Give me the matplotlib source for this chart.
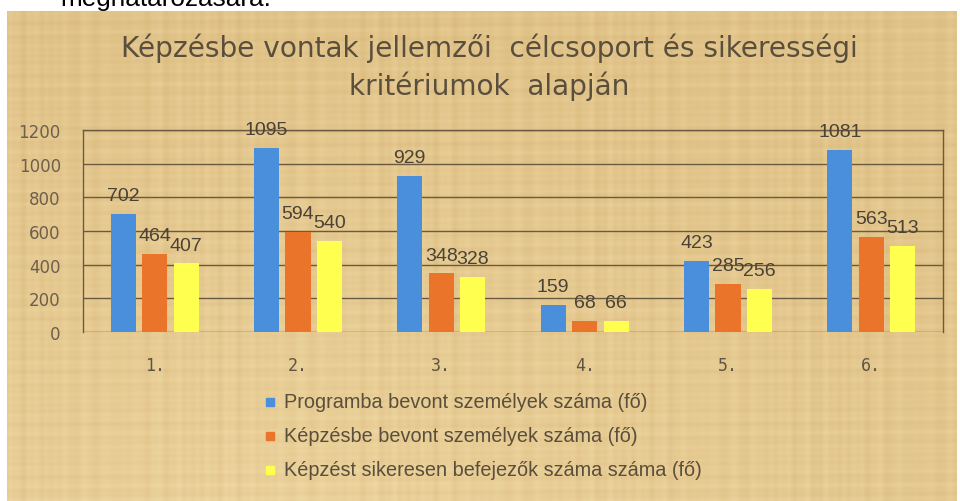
import numpy as np
import matplotlib
matplotlib.use("Agg")
import matplotlib.pyplot as plt
from matplotlib.patches import Rectangle

categories = ["1.", "2.", "3.", "4.", "5.", "6."]
programba = [702, 1095, 929, 159, 423, 1081]
kepzesbe = [464, 594, 348, 68, 285, 563]
sikeres = [407, 540, 328, 66, 256, 513]
series_names = [
    "Programba bevont személyek száma (fő)",
    "Képzésbe bevont személyek száma (fő)",
    "Képzést sikeresen befejezők száma száma (fő)",
]
series_colors = ["#4a8fdb", "#ea7429", "#ffff50"]
yticks = [0, 200, 400, 600, 800, 1000, 1200]

W, H = 960, 502
plt.rcParams['font.family'] = ['Liberation Sans', 'DejaVu Sans']
fig = plt.figure(figsize=(W / 100, H / 100), dpi=100)
fig.patch.set_facecolor("white")

# papyrus-like background panel (deterministic streak texture)
bg = fig.add_axes([7 / W, 0, 950 / W, 490 / H])
yy, xx = np.mgrid[0:245, 0:475].astype(float)
tex = (0.35 * np.sin(xx * 0.61) * np.sin(xx * 0.087 + 1.3)
       + 0.25 * np.sin(xx * 1.37 + 0.4) * np.cos(xx * 0.031)
       + 0.30 * np.sin(yy * 0.83) * np.sin(yy * 0.11 + 0.7)
       + 0.20 * np.sin(yy * 1.91 + xx * 0.02))
tex = (tex - tex.min()) / (tex.max() - tex.min())
glow = 0.35 * (yy / 245.0) * (1 - np.abs(xx / 475.0 - 0.3))
t = np.clip(0.55 * tex + glow, 0, 1)
light = np.array([0.96, 0.88, 0.68])
dark = np.array([0.85, 0.72, 0.48])
img = dark[None, None, :] + t[..., None] * (light - dark)[None, None, :]
bg.imshow(img, aspect="auto", interpolation="bilinear")
bg.set_axis_off()

# cut-off text from the page above the chart
fig.text(60 / W, 1 - 6 / H, "meghatározására.", fontsize=18.8,
         color="black", ha="left", va="baseline")

title_c = "#5a4e3c"
fig.text(489 / W, 1 - 48 / H, "Képzésbe vontak jellemzői  célcsoport és sikerességi",
         fontsize=20.2, color=title_c, ha="center", va="center",
         family="DejaVu Sans")
fig.text(489 / W, 1 - 86 / H, "kritériumok  alapján",
         fontsize=20.2, color=title_c, ha="center", va="center",
         family="DejaVu Sans")

ax = fig.add_axes([83 / W, 1 - 333 / H, 860 / W, 202 / H])
ax.patch.set_alpha(0)
x = np.arange(len(categories))
pitch = 0.22
width = 0.175
grid_c = "#6b5a40"
for i, (vals, name, col) in enumerate(zip([programba, kepzesbe, sikeres],
                                           series_names, series_colors)):
    pos = x + (i - 1) * pitch
    ax.bar(pos, vals, width, color=col, label=name, zorder=3)
    for px, v in zip(pos, vals):
        ax.annotate(str(v), (px, v), xytext=(0, 10), textcoords="offset points",
                    ha="center", va="baseline", fontsize=14, color="#4a4236",
                    zorder=4)

ax.set_xlim(-0.5, len(categories) - 0.5)
ax.set_ylim(0, 1200)
ax.set_yticks(yticks)
ax.set_yticklabels([str(v) for v in yticks], fontsize=12, color="#6e5f4e",
                   family="DejaVu Sans")
ax.set_xticks(x)
ax.set_xticklabels(categories, fontsize=12, color="#5e5446",
                   family="DejaVu Sans Mono")
ax.tick_params(axis="both", length=0)
ax.tick_params(axis="y", pad=16)
ax.tick_params(axis="x", pad=17)
ax.yaxis.grid(True, color=grid_c, linewidth=1, zorder=1)
for side in ["left", "right", "top"]:
    ax.spines[side].set_color(grid_c)
    ax.spines[side].set_linewidth(1)
ax.spines["bottom"].set_visible(False)

# legend drawn as markers + text
leg_y = [403, 437, 471]
for name, col, ly in zip(series_names, series_colors, leg_y):
    fig.patches.append(Rectangle(((270 - 4) / W, 1 - (ly + 4) / H), 8 / W, 8 / H,
                                 transform=fig.transFigure, color=col, zorder=5))
    fig.text(284 / W, 1 - ly / H, name, fontsize=14.3, color="#5a4e3c",
             ha="left", va="center")

fig.savefig("out.png", dpi=100)
